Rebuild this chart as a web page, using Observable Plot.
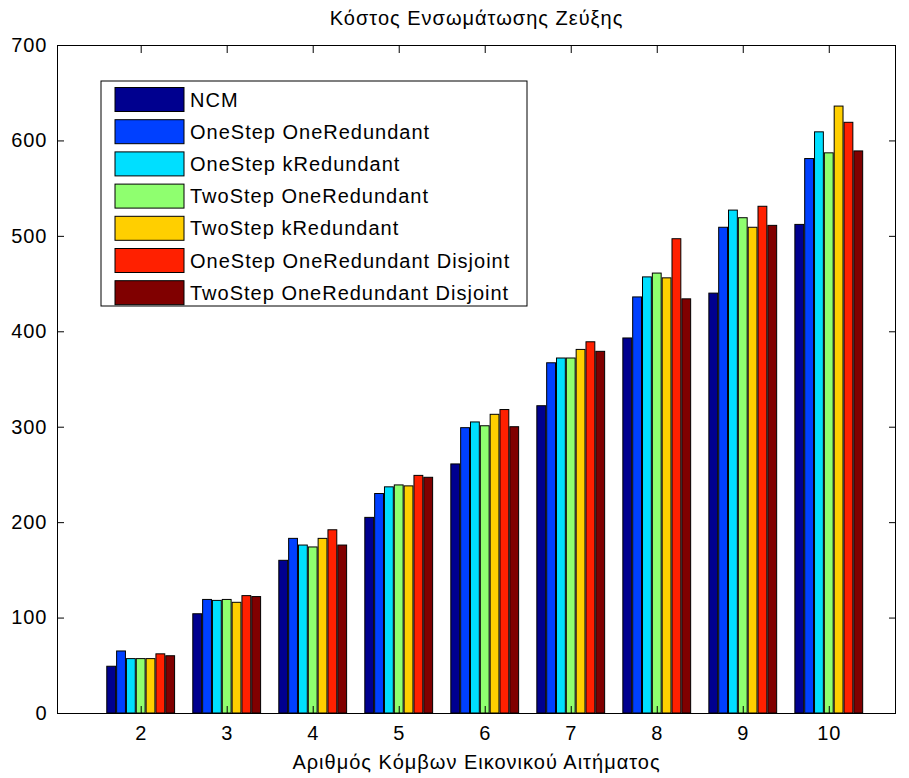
<!DOCTYPE html>
<html>
<head>
<meta charset="utf-8">
<script src="https://cdn.jsdelivr.net/npm/d3@7"></script>
<script src="https://cdn.jsdelivr.net/npm/@observablehq/plot@0.6"></script>
<style>
  html, body { margin: 0; padding: 0; background: white; }
  #chart { position: relative; width: 909px; height: 778px; }
</style>
</head>
<body>
<div id="chart"></div>
<script>
const titleText = "Κόστος Ενσωμάτωσης Ζεύξης";
const xLabelText = "Αριθμός Κόμβων Εικονικού Αιτήματος";

const groups = [2, 3, 4, 5, 6, 7, 8, 9, 10];
const seriesNames = [
  "NCM",
  "OneStep OneRedundant",
  "OneStep kRedundant",
  "TwoStep OneRedundant",
  "TwoStep kRedundant",
  "OneStep OneRedundant Disjoint",
  "TwoStep OneRedundant Disjoint"
];
const seriesColors = ["#00008f", "#0040ff", "#00dfff", "#8fff6f", "#ffcf00", "#ff2000", "#800000"];

const ncm           = [49, 104, 160, 205, 261, 322, 393, 440, 512];
const oneStepOneRed = [65, 119, 183, 230, 299, 367, 436, 509, 581];
const oneStepKRed   = [57, 118, 176, 237, 305, 372, 457, 527, 609];
const twoStepOneRed = [57, 119, 174, 239, 301, 372, 461, 519, 587];
const twoStepKRed   = [57, 116, 183, 238, 313, 381, 456, 509, 636];
const oneStepDisj   = [62, 123, 192, 249, 318, 389, 497, 531, 619];
const twoStepDisj   = [60, 122, 176, 247, 300, 379, 434, 511, 589];

const yTicks = [0, 100, 200, 300, 400, 500, 600, 700];

const seriesValues = [ncm, oneStepOneRed, oneStepKRed, twoStepOneRed, twoStepKRed, oneStepDisj, twoStepDisj];
const nSeries = seriesNames.length;
const groupWidth = 0.8;
const slot = groupWidth / nSeries;

const rows = [];
seriesValues.forEach((vals, si) => {
  vals.forEach((v, gi) => {
    rows.push({group: groups[gi], series: seriesNames[si], si, value: v});
  });
});

const plot = Plot.plot({
  width: 909,
  height: 778,
  marginTop: 45,
  marginBottom: 65,
  marginLeft: 57,
  marginRight: 14,
  x: {type: "linear", domain: [1.027, 10.77], label: null},
  y: {domain: [0, 700], label: null},
  color: {domain: seriesNames, range: seriesColors},
  style: {
    fontFamily: "'Liberation Sans', Arial, sans-serif",
    fontSize: "20px",
    color: "black",
    background: "white",
    letterSpacing: "1px"
  },
  marks: [
    Plot.rect(rows, {
      x1: d => d.group - groupWidth / 2 + d.si * slot,
      x2: d => d.group - groupWidth / 2 + (d.si + 1) * slot,
      y1: 0,
      y2: "value",
      fill: "series",
      stroke: "black",
      strokeWidth: 1,
      insetLeft: 0.5,
      insetRight: 0.5
    }),
    Plot.frame({stroke: "black", strokeWidth: 1}),
    Plot.axisX({ticks: groups, tickSize: 0, tickPadding: 12, tickFormat: d => String(d), label: null}),
    // inward tick marks on all four sides (MATLAB style)
    Plot.axisX({ticks: groups, anchor: "bottom", tickSize: 7, dy: -7, text: null, label: null}),
    Plot.axisX({ticks: groups, anchor: "top", tickSize: 7, dy: 7, text: null, label: null}),
    Plot.axisY({ticks: yTicks, tickSize: 0, tickPadding: 10, label: null}),
    Plot.axisY({ticks: yTicks, anchor: "left", tickSize: 7, dx: 7, text: null, label: null}),
    Plot.axisY({ticks: yTicks, anchor: "right", tickSize: 7, dx: -7, text: null, label: null}),
    Plot.text([titleText], {frameAnchor: "top", dy: -27, lineAnchor: "middle", fontSize: 20, fill: "black"}),
    Plot.text([xLabelText], {frameAnchor: "bottom", dy: 49, lineAnchor: "middle", fontSize: 20, fill: "black"})
  ]
});

document.getElementById("chart").appendChild(plot);

// Legend inside the axes (upper left), as in the reference
const svg = d3.select(plot);
const lg = svg.append("g").attr("class", "legend").attr("text-anchor", "start");
const lx = 101, ly = 81, lw = 426, lh = 225;
lg.append("rect")
  .attr("x", lx).attr("y", ly).attr("width", lw).attr("height", lh)
  .attr("fill", "white").attr("stroke", "black").attr("stroke-width", 1);
const rowStep = 32.2, firstRow = 99.5;
seriesNames.forEach((name, i) => {
  const cy = firstRow + i * rowStep;
  lg.append("rect")
    .attr("x", 115).attr("y", cy - 12).attr("width", 69).attr("height", 24)
    .attr("fill", seriesColors[i]).attr("stroke", "black").attr("stroke-width", 1);
  lg.append("text")
    .attr("x", 190).attr("y", cy).attr("dy", "0.35em")
    .attr("text-anchor", "start")
    .attr("fill", "black")
    .attr("font-size", 20)
    .text(name);
});
</script>
</body>
</html>
